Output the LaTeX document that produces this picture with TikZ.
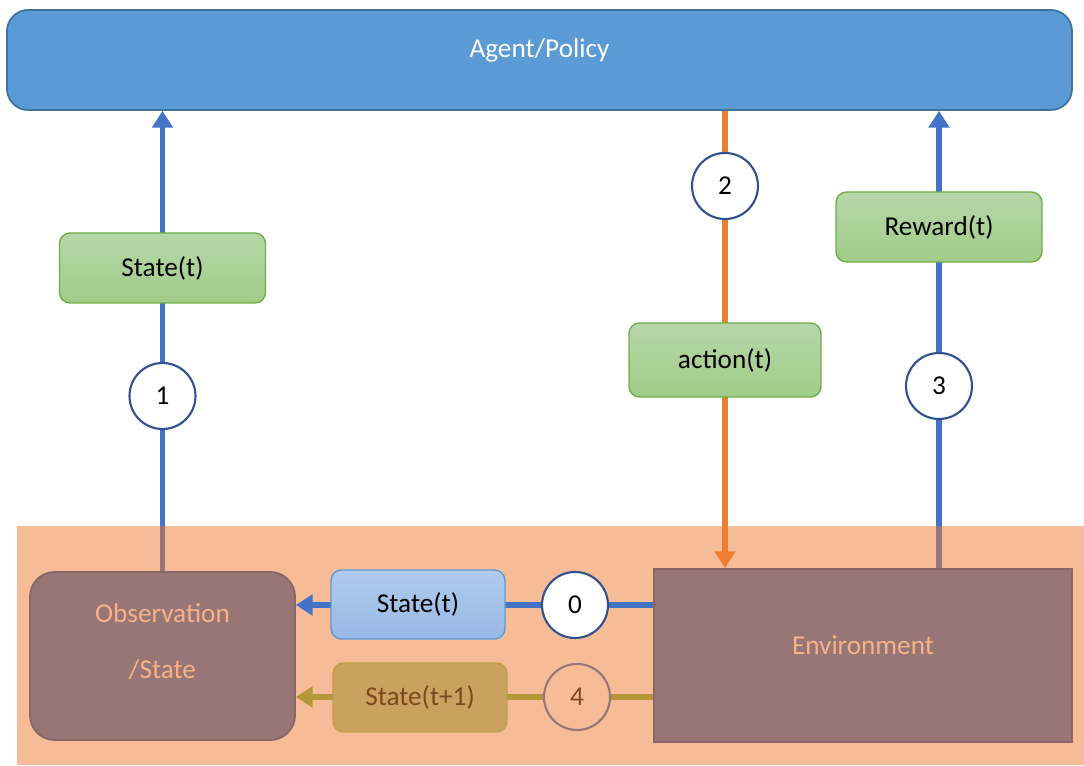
\documentclass[tikz,border=0pt]{standalone}
\usepackage{fontspec}
\setmainfont{Carlito}
\usepackage{tikz}
\usetikzlibrary{positioning,calc,arrows.meta,backgrounds,shapes.geometric}
\definecolor{agentBlue}{RGB}{91,155,213}
\definecolor{agentEdge}{RGB}{65,113,156}
\definecolor{lineBlue}{RGB}{68,114,196}
\definecolor{lineOrange}{RGB}{237,125,49}
\definecolor{lineOlive}{RGB}{180,152,55}
\definecolor{peach}{RGB}{245,188,151}
\definecolor{mauve}{RGB}{152,118,118}
\definecolor{mauveEdge}{RGB}{138,102,102}
\definecolor{mauveText}{RGB}{246,178,134}
\definecolor{greenTop}{RGB}{182,215,168}
\definecolor{greenBot}{RGB}{160,204,136}
\definecolor{greenEdge}{RGB}{112,173,71}
\definecolor{blueTop}{RGB}{176,203,236}
\definecolor{blueBot}{RGB}{150,185,229}
\definecolor{oliveFill}{RGB}{201,162,96}
\definecolor{oliveEdge}{RGB}{190,160,70}
\definecolor{brownText}{RGB}{125,72,32}
\definecolor{circleEdge}{RGB}{47,82,143}

\begin{document}
\begin{tikzpicture}[every node/.style={font=\fontsize{15.5}{18}\selectfont, align=center},
    greenbox/.style={draw=greenEdge, line width=0.8pt, rounded corners=6pt, top color=greenTop, bottom color=greenBot, minimum width=4.12cm, minimum height=1.4cm},
    bluebox/.style={draw=agentBlue, line width=0.8pt, rounded corners=6pt, top color=blueTop, bottom color=blueBot, minimum width=3.48cm, minimum height=1.38cm},
    olivebox/.style={draw=oliveEdge, line width=0.8pt, rounded corners=6pt, fill=oliveFill, text=brownText, minimum width=3.48cm, minimum height=1.38cm},
    numcircle/.style={circle, draw=circleEdge, line width=1.2pt, fill=white, minimum size=1.32cm, inner sep=0pt},
    flow/.style={line width=3.1pt, -{Triangle[width=11.5pt,length=9.5pt]}},
    tail/.style={line width=3.1pt, draw=mauve}]
    \useasboundingbox (0,0) rectangle (21.68,15.3);
    % agent on top
    \node[draw=agentEdge, line width=1pt, fill=agentBlue, rounded corners=12pt, text=white,
        minimum width=21.3cm, minimum height=2cm, text height=11pt, text depth=14pt] (agent) at (10.79,14.1) {Agent/Policy};
    % environment panel
    \node[minimum width=21.34cm, minimum height=4.78cm, inner sep=0pt] (panel) at (11.01,2.39) {};
    \node[draw=mauveEdge, line width=1pt, fill=mauve, rounded corners=14pt, text=mauveText, text depth=17pt,
        minimum width=5.3cm, minimum height=3.36cm] (obs) at (3.25,2.18) {Observation\\[14pt]/State};
    \node[draw=mauveEdge, line width=1pt, fill=mauve, text=mauveText, text height=11pt, text depth=12pt,
        minimum width=8.36cm, minimum height=3.46cm] (env) at (17.26,2.19) {Environment};
    \node[bluebox] (statenow) at (8.36,3.21) {State(t)};
    \node[numcircle] (c0) at (11.5,3.2) {0};
    \node[olivebox] (statenext) at (8.4,1.35) {State(t+1)};
    \node[numcircle, draw=mauve, fill=peach, text=brownText] (c4) at (11.54,1.36) {4};
    % loop labels
    \node[greenbox] (stateobs) at (3.25,9.94) {State(t)};
    \node[numcircle] (c1) at (3.25,7.38) {1};
    \node[numcircle] (c2) at (14.5,11.58) {2};
    \node[greenbox, minimum width=3.84cm, minimum height=1.48cm] (action) at (14.5,8.1) {action(t)};
    \node[greenbox] (reward) at (18.78,10.76) {Reward(t)};
    \node[numcircle] (c3) at (18.78,7.58) {3};
    \begin{scope}[on background layer]
        \fill[peach] (panel.south west) rectangle (panel.north east);
        \draw[tail] (obs.north) -- (obs.north |- panel.north);
        \draw[flow, lineBlue] (obs.north |- panel.north) -- (obs.north |- agent.south);
        \draw[flow, lineOrange] (agent.south -| action) -- (env.north -| action);
        \draw[tail] (env.north -| c3) -- (panel.north -| c3);
        \draw[flow, lineBlue] (panel.north -| c3) -- (agent.south -| c3);
        \draw[flow, lineBlue] (env.west |- c0) -- (obs.east |- c0);
        \draw[flow, lineOlive] (env.west |- c4) -- (obs.east |- c4);
    \end{scope}
\end{tikzpicture}
\end{document}
